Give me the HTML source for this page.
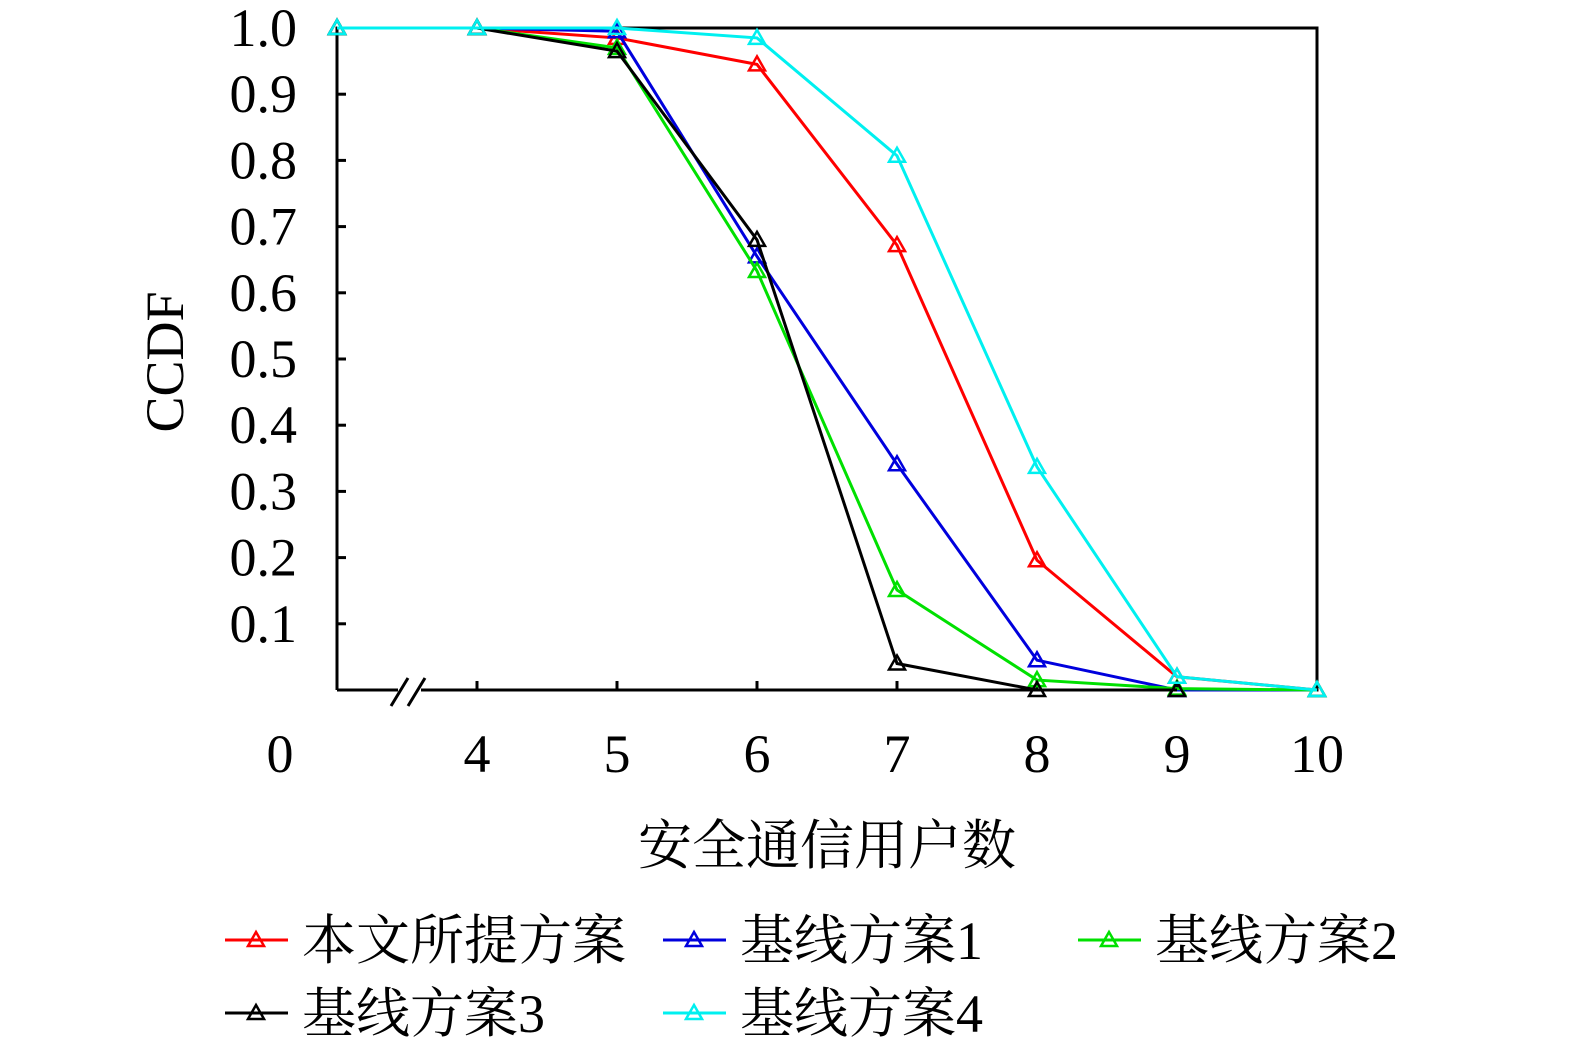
<!DOCTYPE html>
<html><head><meta charset="utf-8"><style>
body{margin:0;background:#fff;}
svg{display:block;}
text{font-family:"Liberation Serif","Noto Serif CJK SC",serif;fill:#000;}
</style></head><body>
<svg id="chart" width="1575" height="1044" xmlns="http://www.w3.org/2000/svg"></svg>
<script>
const xLabels = ["", "4", "5", "6", "7", "8", "9", "10"];
const yTicks = [0.1,0.2,0.3,0.4,0.5,0.6,0.7,0.8,0.9,1.0];
const sProposed = [1.0,1.0,0.985,0.945,0.672,0.196,0.02,0.0];
const sBase1 = [1.0,1.0,0.995,0.655,0.341,0.045,0.0,0.0];
const sBase2 = [1.0,1.0,0.97,0.633,0.151,0.015,0.002,0.0];
const sBase3 = [1.0,1.0,0.965,0.68,0.04,0.0,0.0];
const sBase4 = [1.0,1.0,1.0,0.985,0.807,0.337,0.02,0.0];
const seriesNames = ["本文所提方案","基线方案1","基线方案2","基线方案3","基线方案4"];
const seriesColors = ["#ff0000","#0000dd","#00e000","#000000","#00f0f0"];
const seriesData = [sProposed,sBase1,sBase2,sBase3,sBase4];

const L=337,R=1317,T=28,B=690;
const xs=i=>L+i*(R-L)/(xLabels.length-1);
const ys=v=>B-v*(B-T);
const svg=document.getElementById('chart');
const NS='http://www.w3.org/2000/svg';
function mk(tag,attrs,parent){const e=document.createElementNS(NS,tag);for(const k in attrs)e.setAttribute(k,attrs[k]);(parent||svg).appendChild(e);return e;}

let f=mk('path',{d:`M${L},${B} L${L},${T} L${R},${T} L${R},${B} L421,${B} M398,${B} L${L},${B}`,fill:'none',stroke:'#000','stroke-width':3});


let br=mk('path',{d:`M391,706 L408,678 M408,706 L425,678`,stroke:'#000','stroke-width':3});



for(let i=1;i<xLabels.length-1;i++){
  let t=mk('line',{x1:xs(i),x2:xs(i),y1:B,y2:B-9,stroke:'#000','stroke-width':3});
  
  
}
for(let i=0;i<xLabels.length;i++){
  if(!xLabels[i])continue;
  let t=mk('text',{x:xs(i),y:772,'font-size':54,'text-anchor':'middle'});
  t.textContent=xLabels[i];
  
  
}
let z=mk('text',{x:280,y:772,'font-size':54,'text-anchor':'middle'});z.textContent='0';



yTicks.forEach(v=>{
  if(v<1){let t=mk('line',{x1:L,x2:L+9,y1:ys(v),y2:ys(v),stroke:'#000','stroke-width':3});
  
  }
  let l=mk('text',{x:297,y:ys(v)+18,'font-size':54,'text-anchor':'end'});
  l.textContent=v.toFixed(1);
  
  
});

let yt=mk('text',{x:0,y:0,'font-size':54,'text-anchor':'middle',transform:'translate(183,362) rotate(-90)'});
yt.textContent='CCDF';


let xt=mk('text',{x:827,y:864,'font-size':54,'text-anchor':'middle'});
xt.textContent='安全通信用户数';



function tri(x,y,c,parent){return mk('path',{d:`M${x},${y-8} L${x+8},${y+6} L${x-8},${y+6} Z`,fill:'none',stroke:c,'stroke-width':2.5},parent);}

seriesData.forEach((d,si)=>{
  const g=mk('g',{});
  
  
  const pts=d.map((v,i)=>xs(i)+','+ys(v)).join(' ');
  mk('polyline',{points:pts,fill:'none',stroke:seriesColors[si],'stroke-width':3},g);
  d.forEach((v,i)=>{const m=tri(xs(i),ys(v),seriesColors[si],g);
    
    });
});

const legPos=[[225,940],[663,940],[1078,940],[225,1013],[663,1013]];
seriesNames.forEach((n,i)=>{
  const g=mk('g',{});
  
  
  const [x,y]=legPos[i];
  mk('line',{x1:x,x2:x+63,y1:y,y2:y,stroke:seriesColors[i],'stroke-width':3},g);
  tri(x+31,y,seriesColors[i],g);
  const t=mk('text',{x:x+77,y:y+19,'font-size':54},g);
  t.textContent=n;
});
</script>
</body></html>
